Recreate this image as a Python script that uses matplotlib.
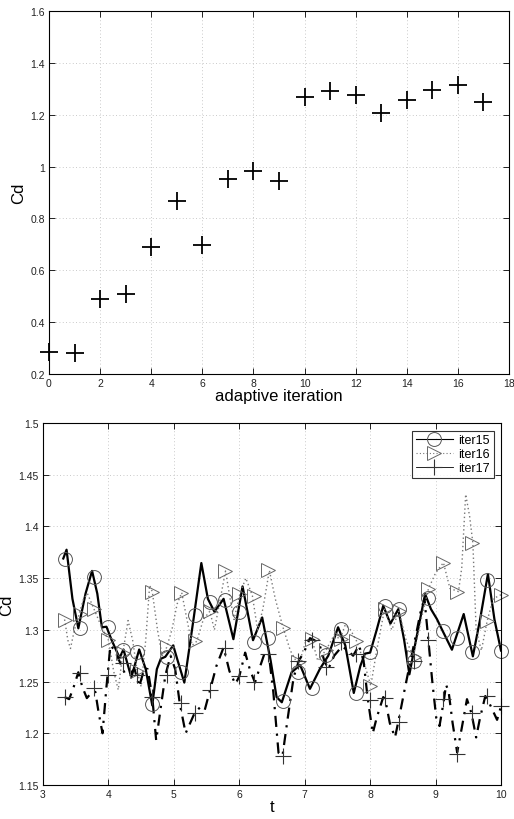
import matplotlib
matplotlib.use("Agg")
import matplotlib.pyplot as plt
from matplotlib.ticker import FuncFormatter
from matplotlib.lines import Line2D

plt.rcParams['font.family'] = ['Liberation Sans', 'DejaVu Sans']

# ---- top panel data ----
iterations = [0, 1, 2, 3, 4, 5, 6, 7, 8, 9, 10, 11, 12, 13, 14, 15, 16, 17]
cd_iter = [0.285, 0.281, 0.49, 0.509, 0.689, 0.869, 0.698, 0.951, 0.984, 0.946,
           1.269, 1.292, 1.277, 1.205, 1.256, 1.296, 1.313, 1.25]

# ---- bottom panel data ----
t_marks = [3.33, 3.56, 3.78, 4.0, 4.22, 4.44, 4.67, 4.89, 5.11, 5.33, 5.56, 5.78, 6.0,
           6.22, 6.44, 6.67, 6.89, 7.11, 7.33, 7.56, 7.78, 8.0, 8.22, 8.44, 8.67, 8.89,
           9.11, 9.33, 9.56, 9.78, 10.0]
mk15 = [1.3685, 1.3014, 1.3507, 1.3024, 1.2808, 1.2789, 1.2282, 1.2734, 1.2589, 1.3143,
        1.3272, 1.3288, 1.3175, 1.2885, 1.2924, 1.2315, 1.259, 1.2434, 1.2756, 1.3008,
        1.2386, 1.2782, 1.3233, 1.320, 1.2695, 1.3305, 1.2992, 1.2918, 1.2788, 1.348, 1.2795]
mk16 = [1.31, 1.315, 1.32, 1.29, 1.278, 1.26, 1.337, 1.283, 1.336, 1.289, 1.318, 1.357,
        1.335, 1.333, 1.3575, 1.302, 1.2686, 1.291, 1.281, 1.291, 1.2895, 1.246, 1.32,
        1.318, 1.274, 1.3395, 1.365, 1.337, 1.384, 1.309, 1.334]
mk17 = [1.235, 1.258, 1.244, 1.256, 1.268, 1.256, 1.235, 1.256, 1.229, 1.22, 1.242, 1.282,
        1.255, 1.25, 1.2766, 1.178, 1.27, 1.29, 1.264, 1.288, 1.277, 1.232, 1.2344, 1.211,
        1.27, 1.29, 1.233, 1.18, 1.2195, 1.2363, 1.2266]

t15 = [3.31, 3.36, 3.45, 3.54, 3.65, 3.75, 3.83, 3.90, 3.97, 4.05, 4.17, 4.23, 4.35, 4.47,
       4.57, 4.67, 4.74, 4.80, 4.87, 4.99, 5.05, 5.16, 5.30, 5.42, 5.52, 5.62, 5.76, 5.91,
       6.05, 6.21, 6.35, 6.48, 6.57, 6.65, 6.80, 6.93, 7.08, 7.23, 7.36, 7.51, 7.62, 7.75,
       7.85, 7.92, 8.0, 8.1, 8.2, 8.31, 8.43, 8.52, 8.60, 8.70, 8.84, 8.93, 9.02, 9.10,
       9.25, 9.43, 9.57, 9.68, 9.80, 9.90, 10.0]
c15 = [1.369, 1.3775, 1.33, 1.3015, 1.335, 1.357, 1.335, 1.3025, 1.303, 1.29, 1.273, 1.281,
       1.254, 1.281, 1.262, 1.227, 1.262, 1.272, 1.274, 1.285, 1.272, 1.249, 1.31, 1.3646,
       1.33, 1.3175, 1.33, 1.291, 1.342, 1.290, 1.312, 1.27, 1.235, 1.23, 1.259, 1.266,
       1.243, 1.262, 1.275, 1.3025, 1.285, 1.239, 1.265, 1.277, 1.278, 1.30, 1.3233, 1.306,
       1.320, 1.29, 1.257, 1.29, 1.3346, 1.32, 1.3105, 1.30, 1.2808, 1.3153, 1.2744, 1.31,
       1.354, 1.31, 1.280]

t16 = [3.33, 3.38, 3.42, 3.48, 3.55, 3.62, 3.68, 3.78, 3.88, 4.0, 4.08, 4.15, 4.22, 4.30,
       4.37, 4.44, 4.50, 4.57, 4.63, 4.67, 4.75, 4.82, 4.89, 4.97, 5.05, 5.12, 5.2, 5.28,
       5.35, 5.45, 5.55, 5.62, 5.68, 5.79, 5.86, 5.92, 6.01, 6.1, 6.2, 6.28, 6.36, 6.46,
       6.55, 6.67, 6.78, 6.88, 6.95, 7.02, 7.11, 7.2, 7.33, 7.45, 7.54, 7.62, 7.70, 7.79,
       7.9, 8.01, 8.1, 8.22, 8.33, 8.44, 8.55, 8.66, 8.78, 8.89, 9.0, 9.12, 9.22, 9.35,
       9.40, 9.46, 9.52, 9.57, 9.62, 9.70, 9.79, 9.88, 10.0]
c16 = [1.31, 1.29, 1.282, 1.30, 1.315, 1.33, 1.335, 1.32, 1.305, 1.29, 1.26, 1.242, 1.278,
       1.309, 1.29, 1.26, 1.245, 1.29, 1.343, 1.337, 1.30, 1.275, 1.283, 1.30, 1.325, 1.336,
       1.31, 1.285, 1.289, 1.31, 1.318, 1.30, 1.32, 1.357, 1.33, 1.31, 1.335, 1.35, 1.333,
       1.30, 1.32, 1.3575, 1.33, 1.302, 1.28, 1.2686, 1.275, 1.29, 1.291, 1.27, 1.281, 1.295,
       1.291, 1.305, 1.30, 1.2895, 1.27, 1.246, 1.28, 1.32, 1.30, 1.318, 1.29, 1.274, 1.31,
       1.3395, 1.355, 1.365, 1.34, 1.337, 1.36, 1.431, 1.41, 1.384, 1.30, 1.28, 1.309, 1.33,
       1.334]

t17 = [3.33, 3.40, 3.47, 3.54, 3.60, 3.67, 3.75, 3.80, 3.85, 3.91, 3.97, 4.03, 4.10, 4.18,
       4.25, 4.33, 4.40, 4.47, 4.55, 4.60, 4.67, 4.73, 4.80, 4.87, 4.95, 5.02, 5.09, 5.18,
       5.25, 5.32, 5.40, 5.47, 5.55, 5.65, 5.76, 5.85, 5.94, 6.0, 6.09, 6.16, 6.24, 6.32,
       6.39, 6.45, 6.52, 6.60, 6.66, 6.73, 6.83, 6.91, 7.0, 7.08, 7.15, 7.23, 7.30, 7.36,
       7.45, 7.57, 7.66, 7.74, 7.83, 7.90, 7.96, 8.04, 8.10, 8.2, 8.23, 8.3, 8.38, 8.43,
       8.52, 8.61, 8.7, 8.78, 8.83, 8.89, 8.95, 9.01, 9.06, 9.13, 9.16, 9.2, 9.26, 9.33,
       9.40, 9.48, 9.55, 9.62, 9.68, 9.76, 9.83, 9.94, 10.0]
c17 = [1.235, 1.233, 1.245, 1.259, 1.245, 1.234, 1.24, 1.24, 1.22, 1.2, 1.245, 1.285,
       1.28, 1.268, 1.258, 1.258, 1.262, 1.245, 1.263, 1.262, 1.235, 1.193, 1.225, 1.256,
       1.275, 1.262, 1.229, 1.2, 1.21, 1.22, 1.225, 1.222, 1.241, 1.265, 1.283, 1.26,
       1.2476, 1.255, 1.278, 1.262, 1.249, 1.265, 1.278, 1.277, 1.24, 1.181, 1.178, 1.21,
       1.254, 1.27, 1.28, 1.292, 1.29, 1.285, 1.27, 1.262, 1.275, 1.284, 1.28, 1.275, 1.285,
       1.27, 1.235, 1.2, 1.215, 1.235, 1.233, 1.21, 1.196, 1.211, 1.24, 1.268, 1.295, 1.32,
       1.33, 1.29, 1.25, 1.215, 1.207, 1.233, 1.247, 1.24, 1.21, 1.1815, 1.205, 1.233,
       1.219, 1.196, 1.215, 1.236, 1.228, 1.213, 1.226]

labels = ['iter15', 'iter16', 'iter17']

fig = plt.figure(figsize=(5.14, 8.2), dpi=100)
fmt = FuncFormatter(lambda v, p: '%g' % round(v, 4))

def style(ax):
    ax.grid(True, linestyle=(0, (1, 3)), color='#b8b8b8', linewidth=0.6)
    ax.tick_params(direction='in', top=True, right=True, labelsize=7.5, length=4,
                   width=0.6, pad=3, labelcolor='#222222')
    for s in ax.spines.values():
        s.set_linewidth(0.8)
    ax.yaxis.set_major_formatter(fmt)
    ax.xaxis.set_major_formatter(fmt)

# top axes
ax1 = fig.add_axes([49/514, 1 - 375/820, 460/514, 363/820])
ax1.plot(iterations, cd_iter, linestyle='none', marker='+', markersize=13,
         markeredgewidth=1.3, color='black', clip_on=False)
ax1.set_xlim(0, 18)
ax1.set_ylim(0.2, 1.6)
ax1.set_xticks(range(0, 19, 2))
ax1.set_yticks([0.2, 0.4, 0.6, 0.8, 1.0, 1.2, 1.4, 1.6])
ax1.set_xlabel('adaptive iteration', fontsize=12)
ax1.xaxis.set_label_coords(0.5, -0.038)
ax1.set_ylabel('Cd', fontsize=12)
ax1.yaxis.set_label_coords(-0.05, 0.5)
style(ax1)

# bottom axes
ax2 = fig.add_axes([43/514, 1 - 786/820, 458/514, 362/820])
ax2.plot(t15, c15, color='black', linewidth=1.6, linestyle='-')
ax2.plot(t16, c16, color='#777777', linewidth=1.0, linestyle=(0, (1, 2)))
ax2.plot(t17, c17, color='black', linewidth=1.6, linestyle=(0, (5, 3, 1, 3)))
mkw = dict(linestyle='none', markerfacecolor='none', markersize=10, clip_on=False)
ax2.plot(t_marks, mk15, marker='o', markeredgecolor='#555555', markeredgewidth=0.7, **mkw)
ax2.plot(t_marks, mk16, marker='>', markeredgecolor='#666666', markeredgewidth=0.7, **mkw)
ax2.plot(t_marks, mk17, marker='+', markeredgecolor='#333333', markeredgewidth=0.8,
         linestyle='none', markersize=11, clip_on=False)
ax2.set_xlim(3, 10)
ax2.set_ylim(1.15, 1.5)
ax2.set_xticks(range(3, 11))
ax2.set_yticks([1.15, 1.2, 1.25, 1.3, 1.35, 1.4, 1.45, 1.5])
ax2.set_xlabel('t', fontsize=12)
ax2.xaxis.set_label_coords(0.5, -0.04)
ax2.set_ylabel('Cd', fontsize=12)
ax2.yaxis.set_label_coords(-0.064, 0.5)
style(ax2)

handles = [
    Line2D([], [], color='black', linewidth=0.8, marker='o', markersize=10,
           markerfacecolor='none', markeredgecolor='#555555', markeredgewidth=0.7),
    Line2D([], [], color='#777777', linewidth=0.8, linestyle=(0, (1, 2)), marker='>',
           markersize=10, markerfacecolor='none', markeredgecolor='#666666', markeredgewidth=0.7),
    Line2D([], [], color='black', linewidth=0.6, marker='+', markersize=11,
           markeredgecolor='#333333', markeredgewidth=0.8),
]
leg = ax2.legend(handles, labels, loc='upper right', fontsize=9, frameon=True,
                 fancybox=False, edgecolor='black', handlelength=3.0, borderpad=0.3,
                 labelspacing=0.15, handletextpad=0.4, borderaxespad=0.6)
leg.get_frame().set_linewidth(0.8)

fig.savefig('out.png', dpi=100)
